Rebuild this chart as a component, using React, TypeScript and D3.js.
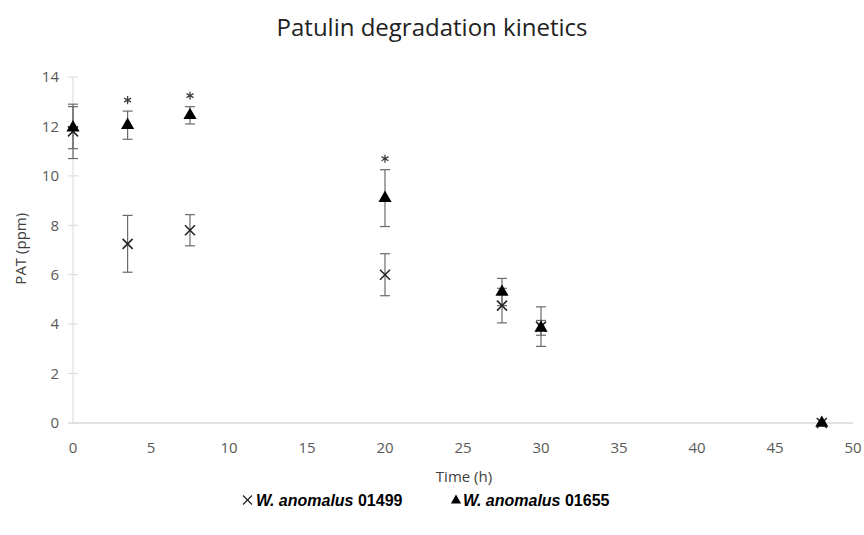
import React, { useEffect, useRef } from 'react';
import * as d3 from 'd3';

const times = [0, 3.5, 7.5, 20, 27.5, 30, 48];
const strainA = [11.8, 7.25, 7.8, 6.0, 4.75, 3.9, 0];
const strainAErr = [1.1, 1.15, 0.63, 0.85, 0.7, 0.8, 0];
const strainB = [11.95, 12.05, 12.45, 9.1, 5.3, 3.85, 0];
const strainBErr = [0.85, 0.57, 0.35, 1.15, 0.55, 0.3, 0];
const starTimes = [3.5, 7.5, 20];
const xTicks = [0, 5, 10, 15, 20, 25, 30, 35, 40, 45, 50];
const yTicks = [0, 2, 4, 6, 8, 10, 12, 14];

const W = 864;
const H = 535;

const App = () => {
  const svgRef = useRef<SVGSVGElement>(null);

  useEffect(() => {
    const svg = d3.select(svgRef.current);
    svg.selectAll('*').remove();

    const x = d3.scaleLinear().domain([0, 50]).range([73, 853]);
    const y = d3.scaleLinear().domain([0, 14]).range([423, 77]);
    const font = '"Open Sans", Lato, sans-serif';
    const grey = '#595959';

    svg.append('rect').attr('width', W).attr('height', H).attr('fill', '#fff');

    // title
    svg.append('text')
      .attr('x', 432).attr('y', 36)
      .attr('text-anchor', 'middle')
      .style('font-family', font)
      .style('font-size', '24px')
      .style('fill', '#222')
      .text('Patulin degradation kinetics');

    // axes
    const axisCol = '#d9d9d9';
    svg.append('line')
      .attr('x1', x(0)).attr('x2', x(0))
      .attr('y1', y(14)).attr('y2', y(0))
      .attr('stroke', axisCol).attr('stroke-width', 1);
    svg.append('line')
      .attr('x1', x(0) - 5).attr('x2', x(50))
      .attr('y1', y(0)).attr('y2', y(0))
      .attr('stroke', axisCol).attr('stroke-width', 1.5);

    svg.append('g').selectAll('line')
      .data(yTicks.slice(1))
      .enter().append('line')
      .attr('x1', x(0) - 5).attr('x2', x(0) + 5)
      .attr('y1', d => y(d)).attr('y2', d => y(d))
      .attr('stroke', axisCol);

    svg.append('g').selectAll('text')
      .data(yTicks)
      .enter().append('text')
      .attr('x', 59).attr('y', d => y(d))
      .attr('dy', '0.35em')
      .attr('text-anchor', 'end')
      .style('font-family', font)
      .style('font-size', '15px')
      .style('fill', grey)
      .text(d => d);

    svg.append('g').selectAll('text')
      .data(xTicks)
      .enter().append('text')
      .attr('x', d => x(d)).attr('y', 448)
      .attr('dy', '0.35em')
      .attr('text-anchor', 'middle')
      .style('font-family', font)
      .style('font-size', '15px')
      .style('fill', grey)
      .text(d => d);

    svg.append('text')
      .attr('x', 464).attr('y', 477)
      .attr('dy', '0.35em')
      .attr('text-anchor', 'middle')
      .style('font-family', font)
      .style('font-size', '15px')
      .style('fill', '#404040')
      .text('Time (h)');

    svg.append('text')
      .attr('transform', `translate(21, ${y(7.05)}) rotate(-90)`)
      .attr('dy', '0.35em')
      .attr('text-anchor', 'middle')
      .style('font-family', font)
      .style('font-size', '15px')
      .style('fill', '#404040')
      .text('PAT (ppm)');

    // error bars
    const errCol = '#6b6b6b';
    const drawErr = (vals: number[], errs: number[]) => {
      const g = svg.append('g').attr('stroke', errCol).attr('stroke-width', 1.2);
      times.forEach((t, i) => {
        if (!errs[i]) return;
        const cx = x(t);
        const top = y(vals[i] + errs[i]);
        const bot = y(vals[i] - errs[i]);
        g.append('line').attr('x1', cx).attr('x2', cx).attr('y1', top).attr('y2', bot);
        g.append('line').attr('x1', cx - 5).attr('x2', cx + 5).attr('y1', top).attr('y2', top);
        g.append('line').attr('x1', cx - 5).attr('x2', cx + 5).attr('y1', bot).attr('y2', bot);
      });
    };
    drawErr(strainA, strainAErr);
    drawErr(strainB, strainBErr);

    // cross markers
    const cross = svg.append('g').attr('stroke', '#262626').attr('stroke-width', 1.6);
    times.forEach((t, i) => {
      const cx = x(t);
      const cy = y(strainA[i]);
      const s = 5;
      cross.append('line').attr('x1', cx - s).attr('x2', cx + s).attr('y1', cy - s).attr('y2', cy + s);
      cross.append('line').attr('x1', cx - s).attr('x2', cx + s).attr('y1', cy + s).attr('y2', cy - s);
    });

    // triangle markers
    const tri = d3.symbol().type(d3.symbolTriangle).size(75);
    svg.append('g').selectAll('path')
      .data(times)
      .enter().append('path')
      .attr('d', tri)
      .attr('transform', (t, i) => `translate(${x(t)}, ${y(strainB[i])})`)
      .attr('fill', '#000');

    // significance asterisks
    const star = d3.symbol().type(d3.symbolAsterisk).size(45);
    svg.append('g').selectAll('path')
      .data(starTimes)
      .enter().append('path')
      .attr('d', star)
      .attr('transform', d => {
        const i = times.indexOf(d);
        return `translate(${x(d)}, ${y(strainB[i] + strainBErr[i]) - 11})`;
      })
      .attr('fill', 'none')
      .attr('stroke', '#404040')
      .attr('stroke-width', 1.3);

    // legend
    const lg = svg.append('g').style('font-family', '"Liberation Sans", Arial, sans-serif')
      .style('font-size', '16px').style('fill', '#000');
    const ly = 500;
    const lc = lg.append('g').attr('stroke', '#262626').attr('stroke-width', 1.3);
    lc.append('line').attr('x1', 243).attr('x2', 252).attr('y1', ly - 4.5).attr('y2', ly + 4.5);
    lc.append('line').attr('x1', 243).attr('x2', 252).attr('y1', ly + 4.5).attr('y2', ly - 4.5);
    const t1 = lg.append('text').attr('x', 256).attr('y', ly).attr('dy', '0.35em');
    t1.append('tspan').style('font-weight', 'bold').style('font-style', 'italic').text('W. anomalus');
    t1.append('tspan').style('font-weight', 'bold').text(' 01499');

    lg.append('path')
      .attr('d', d3.symbol().type(d3.symbolTriangle).size(45))
      .attr('transform', `translate(456, ${ly + 0.5})`)
      .attr('fill', '#000');
    const t2 = lg.append('text').attr('x', 463).attr('y', ly).attr('dy', '0.35em');
    t2.append('tspan').style('font-weight', 'bold').style('font-style', 'italic').text('W. anomalus');
    t2.append('tspan').style('font-weight', 'bold').text(' 01655');
  }, []);

  return (
    <svg ref={svgRef} width={W} height={H} style={{ position: 'absolute', left: 0, top: 0 }} />
  );
};

export default App;
